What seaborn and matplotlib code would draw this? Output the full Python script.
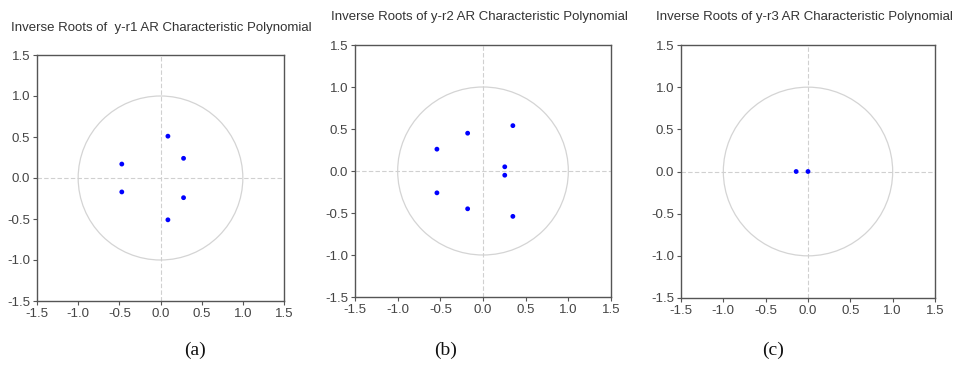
import numpy as np
import pandas as pd
import matplotlib
matplotlib.use('Agg')
import matplotlib.pyplot as plt
import seaborn as sns
from matplotlib.patches import Circle

sns.set_style('white')
plt.rcParams['font.family'] = ['Liberation Sans', 'DejaVu Sans']

# ==================== 数据 ====================
titles = ['Inverse Roots of  y-r1 AR Characteristic Polynomial',
          'Inverse Roots of y-r2 AR Characteristic Polynomial',
          'Inverse Roots of y-r3 AR Characteristic Polynomial']
labels = ['(a)', '(b)', '(c)']

r1_re = [0.09, 0.09, 0.28, 0.28, -0.47, -0.47]
r1_im = [0.51, -0.51, 0.24, -0.24, 0.17, -0.17]

r2_re = [0.35, 0.35, -0.18, -0.18, -0.54, -0.54, 0.255, 0.255]
r2_im = [0.54, -0.54, 0.45, -0.45, 0.26, -0.26, 0.05, -0.05]

r3_re = [-0.14, 0.0]
r3_im = [0.0, 0.0]

ticks = [-1.5, -1.0, -0.5, 0.0, 0.5, 1.0, 1.5]

# ==================== 布局（像素） ====================
W, H = 961, 365
boxes = [(37, 55, 284, 301), (355, 45, 611, 297), (681, 45, 935, 298)]
title_pos = [(11, 28), (331, 17), (656, 17)]
label_pos = [(195, 350), (446, 350), (773, 350)]

fig = plt.figure(figsize=(W / 100, H / 100), dpi=100)

series = [(r1_re, r1_im), (r2_re, r2_im), (r3_re, r3_im)]
for i, (re, im) in enumerate(series):
    x0, y0, x1, y1 = boxes[i]
    ax = fig.add_axes([x0 / W, 1 - y1 / H, (x1 - x0) / W, (y1 - y0) / H])
    df = pd.DataFrame({'re': re, 'im': im})

    # 单位圆 + 零线
    ax.add_patch(Circle((0, 0), 1.0, fill=False, ec='#d4d4d4', lw=0.9))
    ax.axhline(0, color='#d0d0d0', lw=0.8, ls=(0, (4, 2)))
    ax.axvline(0, color='#d0d0d0', lw=0.8, ls=(0, (4, 2)))

    sns.scatterplot(data=df, x='re', y='im', ax=ax, color='#0000ff',
                    s=12, edgecolor='none', zorder=3)

    ax.set_xlim(-1.5, 1.5)
    ax.set_ylim(-1.5, 1.5)
    ax.set_xticks(ticks)
    ax.set_yticks(ticks)
    ax.set_xticklabels([f'{t:.1f}' for t in ticks])
    ax.set_yticklabels([f'{t:.1f}' for t in ticks])
    ax.set_xlabel('')
    ax.set_ylabel('')
    ax.tick_params(axis='both', direction='out', length=3, width=0.8,
                   colors='#555555', labelcolor='#444444', labelsize=9.5,
                   bottom=True, left=True, pad=2)
    for sp in ax.spines.values():
        sp.set_color('#555555')
        sp.set_linewidth(1.0)

    tx, ty = title_pos[i]
    fig.text(tx / W, 1 - ty / H, titles[i], ha='left', va='center',
             fontsize=9.5, color='#333333')
    lx, ly = label_pos[i]
    fig.text(lx / W, 1 - ly / H, labels[i], ha='center', va='center',
             fontsize=14, family='Liberation Serif', color='#111111')

fig.savefig('out.png', dpi=100)
